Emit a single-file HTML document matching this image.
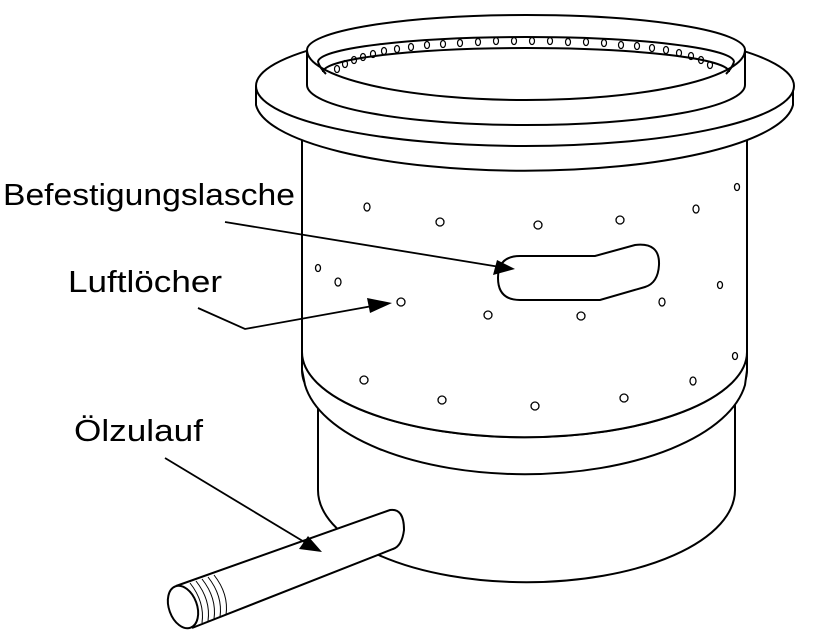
<!DOCTYPE html>
<html><head><style>body{margin:0;background:#fff}svg{display:block}</style></head><body>
<svg width="827" height="641" viewBox="0 0 827 641" xmlns="http://www.w3.org/2000/svg" fill="none" stroke="#000" stroke-width="2">
<rect width="827" height="641" fill="#fff" stroke="none"/>
<!-- lower cylinder -->
<path d="M318 405 L318 490 A208 92 0 0 0 735 490 L735 405" fill="#fff"/>
<!-- band -->
<path d="M302 350 L302 370 A222 85 0 0 0 747 370 L747 350" fill="#fff"/>
<path d="M302 370 L305 385 A222 103 0 0 0 745 385 L747 370" fill="#fff"/>
<path d="M302 350 A222 85 0 0 0 747 350" />
<path d="M303 358 A222 85 0 0 0 746 358" />
<!-- main body -->
<path d="M302 130 L302 352 A222 85 0 0 0 747 352 L747 130" fill="#fff"/>
<!-- flange -->
<path d="M256 86 L256 105 A269 70 0 0 0 793 105 L793 86" fill="#fff"/>
<ellipse cx="525" cy="86" rx="269" ry="60" fill="#fff"/>
<!-- ring -->
<path d="M307 50 L307 85 A219 40 0 0 0 745 85 L745 50" fill="#fff"/>
<path d="M307 50 A219 35 0 0 1 745 50 A219 50 0 0 1 307 50Z" fill="#fff"/>
<path d="M318 62 A208 25 0 0 1 734 62" />
<path d="M323 72 A203 24 0 0 1 729 72" />
<path d="M318 62 Q320 68 326 74" />
<path d="M734 62 Q732 68 726 74" />
<g stroke-width="1.2">
<ellipse cx="337" cy="69" rx="2.5" ry="3.5"/><ellipse cx="345" cy="64" rx="2.5" ry="3.5"/><ellipse cx="354" cy="60" rx="2.5" ry="3.5"/><ellipse cx="363" cy="57" rx="2.5" ry="3.5"/><ellipse cx="373" cy="54" rx="2.5" ry="3.5"/><ellipse cx="384" cy="51" rx="2.5" ry="3.5"/><ellipse cx="397" cy="49" rx="2.5" ry="3.5"/><ellipse cx="411" cy="47" rx="2.5" ry="3.5"/><ellipse cx="427" cy="45" rx="2.5" ry="3.5"/><ellipse cx="443" cy="44" rx="2.5" ry="3.5"/><ellipse cx="460" cy="43" rx="2.5" ry="3.5"/><ellipse cx="478" cy="42" rx="2.5" ry="3.5"/><ellipse cx="496" cy="41" rx="2.5" ry="3.5"/><ellipse cx="514" cy="41" rx="2.5" ry="3.5"/><ellipse cx="532" cy="41" rx="2.5" ry="3.5"/><ellipse cx="550" cy="41" rx="2.5" ry="3.5"/><ellipse cx="568" cy="42" rx="2.5" ry="3.5"/><ellipse cx="586" cy="42" rx="2.5" ry="3.5"/><ellipse cx="604" cy="43" rx="2.5" ry="3.5"/><ellipse cx="621" cy="45" rx="2.5" ry="3.5"/><ellipse cx="637" cy="46" rx="2.5" ry="3.5"/><ellipse cx="652" cy="48" rx="2.5" ry="3.5"/><ellipse cx="666" cy="50" rx="2.5" ry="3.5"/><ellipse cx="679" cy="53" rx="2.5" ry="3.5"/><ellipse cx="691" cy="56" rx="2.5" ry="3.5"/><ellipse cx="701" cy="60" rx="2.5" ry="3.5"/><ellipse cx="710" cy="65" rx="2.5" ry="3.5"/>
</g>
<!-- holes -->
<g stroke-width="1.3">
<ellipse cx="367" cy="207" rx="3" ry="4"/><ellipse cx="440" cy="222" rx="4" ry="4"/><ellipse cx="538" cy="225" rx="4" ry="4"/><ellipse cx="620" cy="220" rx="4" ry="4"/><ellipse cx="696" cy="209" rx="3" ry="4"/><ellipse cx="737" cy="187" rx="2.5" ry="3.5"/>
<ellipse cx="318" cy="268" rx="2.5" ry="3.5"/><ellipse cx="338" cy="282" rx="3" ry="4"/><ellipse cx="401" cy="302" rx="4" ry="4"/><ellipse cx="488" cy="315" rx="4" ry="4"/><ellipse cx="581" cy="316" rx="4" ry="4"/><ellipse cx="662" cy="302" rx="3" ry="4"/><ellipse cx="720" cy="285" rx="2.5" ry="3.5"/>
<ellipse cx="735" cy="356" rx="2.5" ry="3.5"/><ellipse cx="364" cy="380" rx="4" ry="4"/><ellipse cx="442" cy="400" rx="4" ry="4"/><ellipse cx="535" cy="406" rx="4" ry="4"/><ellipse cx="624" cy="398" rx="4" ry="4"/><ellipse cx="693" cy="381" rx="3" ry="4"/>
</g>
<!-- slot -->
<path d="M520 256 L595 256 L635 245 Q660 242 659 265 Q658 283 645 287 L600 300 L520 300 Q498 300 498 278 Q498 256 520 256Z" fill="#fff"/>
<!-- pipe -->
<path d="M176 586 L390 510 Q404 508 404 530 Q402 546 393 549 L192 628" fill="#fff"/>
<ellipse cx="183" cy="607" rx="14" ry="22" transform="rotate(-20 183 607)" fill="#fff"/>
<g stroke-width="1"><path d="M190 583 Q205 602 202 623"/><path d="M196 581 Q211 600 208 621"/><path d="M202 579 Q217 598 214 619"/><path d="M208 577 Q223 596 220 617"/><path d="M214 575 Q229 594 226 615"/></g>
<!-- leaders -->
<g stroke-width="1.8">
<path d="M225 222 L500 267"/>
<path d="M198 308 L245 329 L378 305"/>
<path d="M165 458 L306 543"/>
</g>
<g fill="#000" stroke="none">
<path d="M515 269 L493 275 L497 260Z"/>
<path d="M392 303 L370 313 L367 298Z"/>
<path d="M322 552 L299 549 L308 536Z"/>
</g>
<g font-family="Liberation Sans, sans-serif" font-size="31" fill="#000" stroke="none">
<text x="3" y="205" textLength="292" lengthAdjust="spacingAndGlyphs">Befestigungslasche</text>
<text x="68" y="292" textLength="154" lengthAdjust="spacingAndGlyphs">Luftlöcher</text>
<text x="74" y="441" textLength="129" lengthAdjust="spacingAndGlyphs">Ölzulauf</text>
</g>
</svg>
</body></html>
